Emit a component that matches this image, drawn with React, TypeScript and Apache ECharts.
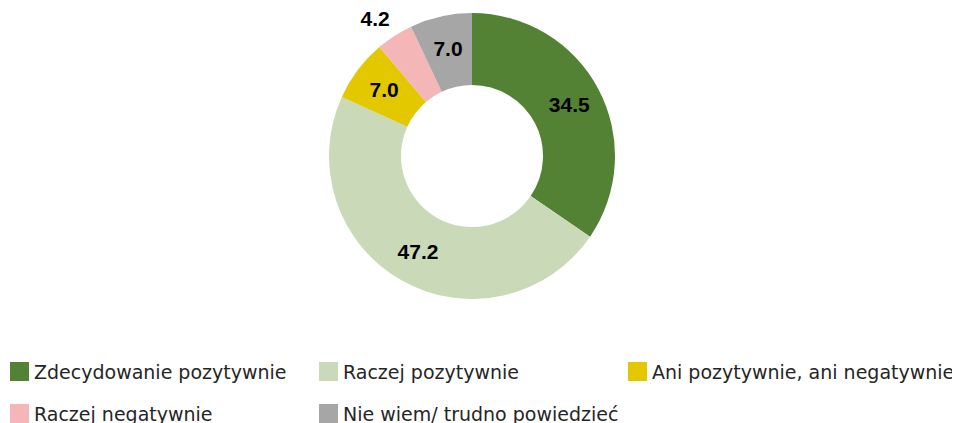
import React, { useEffect, useRef } from "react";
import * as echarts from "echarts";

const categories = [
  "Zdecydowanie pozytywnie",
  "Raczej pozytywnie",
  "Ani pozytywnie, ani negatywnie",
  "Raczej negatywnie",
  "Nie wiem/ trudno powiedzieć",
];
const values = [34.5, 47.2, 7.0, 4.2, 7.0];
const colors = ["#548235", "#CADAB8", "#E3C800", "#F4B6B6", "#A6A6A6"];
const legendColumns = [
  [categories[0], categories[3]],
  [categories[1], categories[4]],
  [categories[2]],
];

export default function App() {
  const ref = useRef<HTMLDivElement>(null);
  useEffect(() => {
    if (!ref.current) return;
    const chart = echarts.init(ref.current, undefined, { renderer: "svg" });
    const legendLefts = [2, 311, 620];
    chart.setOption({
      animation: false,
      color: colors,
      legend: legendColumns.map((col, i) => ({
        data: col,
        orient: "vertical",
        left: legendLefts[i],
        top: 354,
        height: 90,
        padding: 0,
        itemGap: 23,
        itemWidth: 19,
        itemHeight: 19,
        icon: "rect",
        selectedMode: false,
        textStyle: {
          fontFamily: "DejaVu Sans",
          fontSize: 19,
          color: "#262626",
          lineHeight: 19,
          padding: [0, 0, 0, 0],
        },
      })),
      series: [
        {
          type: "pie",
          center: [464, 148],
          radius: [71, 143],
          startAngle: 90,
          clockwise: true,
          avoidLabelOverlap: false,
          label: {
            show: true,
            position: "inside",
            formatter: (p: any) => p.value.toFixed(1),
            fontFamily: "Liberation Sans",
            fontWeight: "bold",
            fontSize: 21,
            color: "#000",
          },
          labelLine: { show: false },
          emphasis: { disabled: true },
          data: categories.map((name, i) => ({
            name,
            value: values[i],
            itemStyle: { color: colors[i] },
            ...(i === 3
              ? {
                  label: { position: "outside", distanceToLabelLine: -6 },
                  labelLine: { show: false, length: 20, length2: 0 },
                }
              : {}),
          })),
        },
      ],
    });
    return () => chart.dispose();
  }, []);
  return <div ref={ref} style={{ width: 952, height: 415 }} />;
}
